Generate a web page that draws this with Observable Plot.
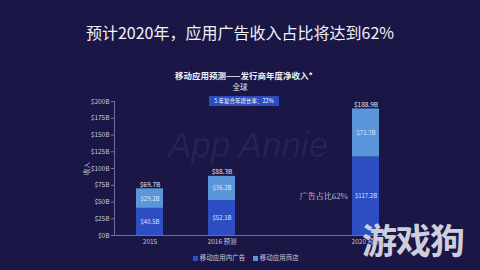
<!DOCTYPE html>
<html>
<head>
<meta charset="utf-8">
<script src="https://cdn.jsdelivr.net/npm/d3@7"></script>
<script src="https://cdn.jsdelivr.net/npm/@observablehq/plot@0.6"></script>
<style>
  html, body { margin: 0; padding: 0; background: #1a1646; }
  #wrap { position: relative; width: 480px; height: 270px; overflow: hidden; background: #1a1646;
          font-family: "Noto Sans CJK SC", "Noto Sans", sans-serif; }
  #wrap > div { position: absolute; pointer-events: none; white-space: nowrap; }
  #chart { position: absolute; left: 0; top: 0; }
  .title { left: 0; width: 480px; top: 23px; text-align: center; color: #f2f2f7; font-size: 16px; line-height: 18px; }
  .ctitle { left: 144px; width: 200px; top: 70px; text-align: center; color: #f0f0f5; font-size: 8.5px; font-weight: bold; line-height: 11px; }
  .region { left: 200px; width: 80px; top: 82px; text-align: center; color: #e6e6ee; font-size: 7.5px; line-height: 10px; }
  .badge { left: 209px; top: 96px; width: 70px; height: 10px; background: #2a4cc0; color: #ffffff; font-size: 5.5px; line-height: 10px; text-align: center; }
  .wm { left: 148px; width: 200px; top: 126px; text-align: center; color: rgba(255,255,255,0.06); font-size: 35px; font-style: italic; font-family: "Liberation Sans Narrow", "Liberation Sans", sans-serif; line-height: 38px; }
  .legend { left: 146px; width: 200px; top: 253px; text-align: center; color: #c8c8da; font-size: 6.5px; line-height: 9px; }
  .legend span.sw { display: inline-block; width: 4.5px; height: 4.5px; margin-right: 2px; vertical-align: -0.5px; }
  .legend span.item { margin: 0 4px; }
  .logo { left: 362px; top: 218px; color: #cdcddb; font-size: 35px; font-weight: bold; line-height: 42px; letter-spacing: -1px; }
</style>
</head>
<body>
<div id="wrap">
  <div class="wm">App Annie</div>
  <div id="chart"></div>
  <div class="title">预计2020年，应用广告收入占比将达到62%</div>
  <div class="ctitle">移动应用预测——发行商年度净收入*</div>
  <div class="region">全球</div>
  <div class="badge">5 年复合年增长率：22%</div>
  <div class="legend" id="legend"></div>
  <div class="logo">游戏狗</div>
</div>
<script>
// ---- data ----
const years = ["2015", "2016 预测", "2020 预测"];
const xSlots = ["2015", "2016 预测", "gap", "2020 预测"];
const seriesNames = ["移动应用内广告", "移动应用商店"];
const adRevenue = [40.5, 52.1, 117.2];
const storeRevenue = [29.2, 36.2, 71.7];
const totals = [69.7, 88.3, 188.9];
const yTicks = [0, 25, 50, 75, 100, 125, 150, 175, 200];
const seriesColors = ["#2c4ec2", "#5b96da"];
const annotationYear = "2020 预测";

const rows = years.flatMap((yr, i) => [
  {year: yr, series: seriesNames[0], value: adRevenue[i]},
  {year: yr, series: seriesNames[1], value: storeRevenue[i]}
]);
const totalRows = years.map((yr, i) => ({year: yr, total: totals[i]}));
const annRows = rows.filter(d => d.year === annotationYear && d.series === seriesNames[0]);
const annIdx = years.indexOf(annotationYear);
const share = Math.round(adRevenue[annIdx] / totals[annIdx] * 100);

const fmt = v => `$${v}B`;

const chart = Plot.plot({
  width: 480,
  height: 270,
  marginLeft: 114,
  marginRight: 78,
  marginTop: 101,
  marginBottom: 35,
  style: {background: "transparent", color: "#c8c8da", fontSize: "6.5px",
          fontFamily: "'Noto Sans CJK SC', 'Noto Sans', sans-serif", overflow: "visible"},
  x: {domain: xSlots, paddingInner: 0.62, paddingOuter: 0.31},
  y: {domain: [0, 200]},
  color: {domain: seriesNames, range: seriesColors},
  marks: [
    Plot.axisY({ticks: yTicks, tickFormat: fmt, tickSize: 3, tickPadding: 2, stroke: "#77749c",
                fill: "#c8c8da", label: "收入", labelAnchor: "center", labelArrow: "none", labelOffset: 30}),
    Plot.axisX({ticks: years, tickSize: 0, tickPadding: 4, label: null, fill: "#c8c8da"}),
    Plot.barY(rows, {x: "year", y: "value", fill: "series"}),
    Plot.ruleY([0], {stroke: "#6f6c98"}),
    Plot.frame({anchor: "left", stroke: "#6f6c98"}),
    Plot.text(rows, Plot.stackY({x: "year", y: "value", z: "series", text: d => fmt(d.value),
                fill: "#dbe5ff", fontSize: 6})),
    Plot.text(totalRows, {x: "year", y: "total", text: d => fmt(d.total), dy: -2,
                lineAnchor: "bottom", fill: "#e8e8f0", fontSize: 6.5}),
    Plot.text(annRows, Plot.stackY({x: "year", y: "value", z: "series", text: () => `广告占比${share}%`,
                textAnchor: "end", dx: -18, fill: "#d8d8e2", fontSize: 8,
                fontFamily: "'Noto Serif CJK SC', 'DejaVu Serif', serif"}))
  ]
});
document.getElementById("chart").appendChild(chart);

const legend = document.getElementById("legend");
seriesNames.forEach((name, i) => {
  const item = document.createElement("span");
  item.className = "item";
  const sw = document.createElement("span");
  sw.className = "sw";
  sw.style.background = seriesColors[i];
  item.appendChild(sw);
  item.appendChild(document.createTextNode(name));
  legend.appendChild(item);
});
</script>
</body>
</html>
